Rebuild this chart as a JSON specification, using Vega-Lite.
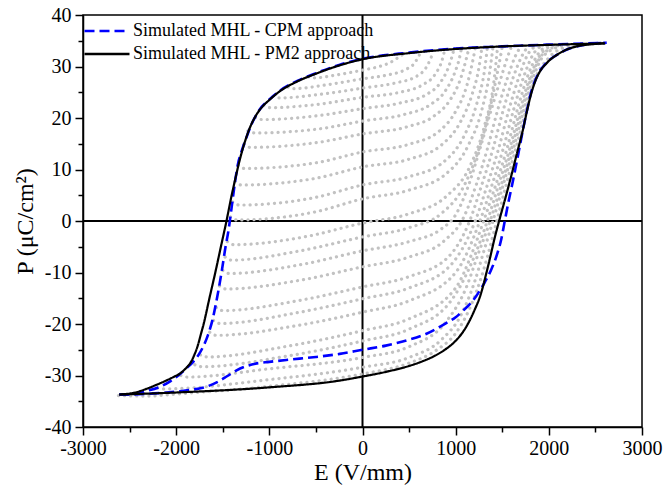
{
  "$schema": "https://vega.github.io/schema/vega-lite/v6.json",
  "width": 559,
  "height": 412,
  "autosize": {"type": "none"},
  "padding": {"left": 83, "top": 15, "right": 23, "bottom": 62},
  "background": "white",
  "config": {
    "font": "Liberation Serif",
    "view": {"stroke": "black", "strokeWidth": 1.5},
    "axis": {
      "domainColor": "black", "domainWidth": 1.5, "tickColor": "black", "tickWidth": 1.5,
      "labelFont": "Liberation Serif", "labelFontSize": 20, "labelColor": "black",
      "titleFont": "Liberation Serif", "titleFontSize": 24, "titleFontWeight": "normal", "titleColor": "black",
      "grid": false, "labelOverlap": false, "labelFlush": false
    },
    "legend": {"labelFont": "Liberation Serif"}
  },
  "datasets": {
    "gray": [
      {"c":"g1","E":-580,"P":28.0},{"c":"g1","E":-510,"P":27.8},{"c":"g1","E":-300,"P":28.3},{"c":"g1","E":0,"P":29.3},{"c":"g1","E":180,"P":30.0},{"c":"g1","E":300,"P":30.8},{"c":"g1","E":380,"P":31.7},{"c":"g1","E":430,"P":32.3},
      {"c":"g2","E":-800,"P":26.0},{"c":"g2","E":-730,"P":25.7},{"c":"g2","E":-400,"P":26.4},{"c":"g2","E":0,"P":27.6},{"c":"g2","E":280,"P":28.4},{"c":"g2","E":450,"P":29.3},{"c":"g2","E":560,"P":30.7},{"c":"g2","E":620,"P":32.6},
      {"c":"g3","E":-960,"P":24.2},{"c":"g3","E":-890,"P":23.9},{"c":"g3","E":-450,"P":24.6},{"c":"g3","E":0,"P":25.8},{"c":"g3","E":350,"P":26.8},{"c":"g3","E":570,"P":28.0},{"c":"g3","E":690,"P":30.0},{"c":"g3","E":760,"P":32.8},
      {"c":"g4","E":-1060,"P":22.4},{"c":"g4","E":-990,"P":22.0},{"c":"g4","E":-500,"P":22.6},{"c":"g4","E":0,"P":24.0},{"c":"g4","E":400,"P":25.0},{"c":"g4","E":640,"P":26.4},{"c":"g4","E":780,"P":28.5},{"c":"g4","E":850,"P":31.0},{"c":"g4","E":880,"P":33.0},
      {"c":"g5","E":-1150,"P":20.1},{"c":"g5","E":-1080,"P":19.7},{"c":"g5","E":-500,"P":20.4},{"c":"g5","E":0,"P":21.8},{"c":"g5","E":400,"P":22.9},{"c":"g5","E":680,"P":24.5},{"c":"g5","E":840,"P":27.0},{"c":"g5","E":930,"P":30.2},{"c":"g5","E":980,"P":33.2},
      {"c":"g6","E":-1230,"P":17.5},{"c":"g6","E":-1160,"P":17.1},{"c":"g6","E":-500,"P":17.8},{"c":"g6","E":0,"P":19.4},{"c":"g6","E":450,"P":20.7},{"c":"g6","E":720,"P":22.5},{"c":"g6","E":890,"P":25.3},{"c":"g6","E":990,"P":28.8},{"c":"g6","E":1040,"P":31.6},{"c":"g6","E":1060,"P":33.3},
      {"c":"g7","E":-1275,"P":14.8},{"c":"g7","E":-1205,"P":14.3},{"c":"g7","E":-500,"P":15.2},{"c":"g7","E":0,"P":16.9},{"c":"g7","E":480,"P":18.3},{"c":"g7","E":770,"P":20.4},{"c":"g7","E":940,"P":23.5},{"c":"g7","E":1050,"P":27.5},{"c":"g7","E":1110,"P":31.2},{"c":"g7","E":1140,"P":33.4},
      {"c":"g8","E":-1335,"P":10.8},{"c":"g8","E":-1265,"P":10.2},{"c":"g8","E":-500,"P":11.3},{"c":"g8","E":0,"P":13.4},{"c":"g8","E":500,"P":14.9},{"c":"g8","E":820,"P":17.4},{"c":"g8","E":1000,"P":21.3},{"c":"g8","E":1120,"P":26.3},{"c":"g8","E":1180,"P":30.8},{"c":"g8","E":1210,"P":33.5},
      {"c":"g9","E":-1370,"P":7.6},{"c":"g9","E":-1300,"P":7.0},{"c":"g9","E":-500,"P":8.3},{"c":"g9","E":0,"P":10.5},{"c":"g9","E":500,"P":12.0},{"c":"g9","E":850,"P":14.8},{"c":"g9","E":1050,"P":19.2},{"c":"g9","E":1180,"P":24.8},{"c":"g9","E":1250,"P":29.8},{"c":"g9","E":1280,"P":33.5},
      {"c":"g10","E":-1395,"P":3.7},{"c":"g10","E":-1325,"P":3.1},{"c":"g10","E":-500,"P":4.6},{"c":"g10","E":0,"P":7.0},{"c":"g10","E":500,"P":8.6},{"c":"g10","E":880,"P":11.6},{"c":"g10","E":1090,"P":16.5},{"c":"g10","E":1230,"P":23.0},{"c":"g10","E":1310,"P":29.3},{"c":"g10","E":1340,"P":33.6},
      {"c":"g11","E":-1418,"P":0.8},{"c":"g11","E":-1348,"P":0.2},{"c":"g11","E":-500,"P":1.8},{"c":"g11","E":0,"P":4.3},{"c":"g11","E":500,"P":6.0},{"c":"g11","E":900,"P":9.2},{"c":"g11","E":1130,"P":14.5},{"c":"g11","E":1280,"P":21.5},{"c":"g11","E":1360,"P":28.3},{"c":"g11","E":1400,"P":33.7},
      {"c":"g12","E":-1450,"P":-4.0},{"c":"g12","E":-1380,"P":-4.6},{"c":"g12","E":-600,"P":-3.0},{"c":"g12","E":0,"P":-0.4},{"c":"g12","E":500,"P":1.4},{"c":"g12","E":900,"P":4.8},{"c":"g12","E":1150,"P":10.5},{"c":"g12","E":1310,"P":18.5},{"c":"g12","E":1410,"P":27.0},{"c":"g12","E":1450,"P":33.8},
      {"c":"g13","E":-1475,"P":-7.0},{"c":"g13","E":-1405,"P":-7.6},{"c":"g13","E":-700,"P":-5.9},{"c":"g13","E":0,"P":-3.1},{"c":"g13","E":500,"P":-1.3},{"c":"g13","E":850,"P":1.5},{"c":"g13","E":1080,"P":6.5},{"c":"g13","E":1250,"P":14.0},{"c":"g13","E":1370,"P":22.0},{"c":"g13","E":1450,"P":29.0},{"c":"g13","E":1500,"P":33.8},
      {"c":"g14","E":-1500,"P":-9.6},{"c":"g14","E":-1430,"P":-10.2},{"c":"g14","E":-700,"P":-8.6},{"c":"g14","E":0,"P":-5.8},{"c":"g14","E":500,"P":-4.0},{"c":"g14","E":850,"P":-1.5},{"c":"g14","E":1000,"P":1.2},{"c":"g14","E":1130,"P":6.5},{"c":"g14","E":1260,"P":14.0},{"c":"g14","E":1380,"P":21.5},{"c":"g14","E":1490,"P":28.0},{"c":"g14","E":1560,"P":32.0},{"c":"g14","E":1600,"P":33.9},
      {"c":"g15","E":-1535,"P":-12.6},{"c":"g15","E":-1465,"P":-13.2},{"c":"g15","E":-700,"P":-11.6},{"c":"g15","E":0,"P":-8.9},{"c":"g15","E":500,"P":-7.0},{"c":"g15","E":880,"P":-3.8},{"c":"g15","E":1080,"P":0.5},{"c":"g15","E":1220,"P":7.0},{"c":"g15","E":1340,"P":14.0},{"c":"g15","E":1450,"P":21.5},{"c":"g15","E":1560,"P":28.0},{"c":"g15","E":1640,"P":32.0},{"c":"g15","E":1700,"P":33.9},
      {"c":"g16","E":-1570,"P":-16.8},{"c":"g16","E":-1500,"P":-17.4},{"c":"g16","E":-700,"P":-15.5},{"c":"g16","E":0,"P":-12.8},{"c":"g16","E":500,"P":-10.8},{"c":"g16","E":920,"P":-7.0},{"c":"g16","E":1150,"P":0.0},{"c":"g16","E":1280,"P":7.0},{"c":"g16","E":1400,"P":14.0},{"c":"g16","E":1510,"P":21.5},{"c":"g16","E":1620,"P":28.0},{"c":"g16","E":1710,"P":32.0},{"c":"g16","E":1780,"P":34.0},
      {"c":"g17","E":-1600,"P":-19.3},{"c":"g17","E":-1530,"P":-19.9},{"c":"g17","E":-700,"P":-17.8},{"c":"g17","E":0,"P":-15.1},{"c":"g17","E":500,"P":-13.0},{"c":"g17","E":950,"P":-8.5},{"c":"g17","E":1210,"P":0.0},{"c":"g17","E":1340,"P":7.0},{"c":"g17","E":1460,"P":14.0},{"c":"g17","E":1570,"P":21.5},{"c":"g17","E":1680,"P":28.0},{"c":"g17","E":1770,"P":32.2},{"c":"g17","E":1860,"P":34.0},
      {"c":"g18","E":-1640,"P":-21.6},{"c":"g18","E":-1570,"P":-22.2},{"c":"g18","E":-700,"P":-20.3},{"c":"g18","E":0,"P":-17.7},{"c":"g18","E":500,"P":-15.5},{"c":"g18","E":1000,"P":-10.0},{"c":"g18","E":1260,"P":0.0},{"c":"g18","E":1390,"P":7.0},{"c":"g18","E":1510,"P":14.0},{"c":"g18","E":1620,"P":21.5},{"c":"g18","E":1730,"P":28.0},{"c":"g18","E":1830,"P":32.3},{"c":"g18","E":1930,"P":34.1},
      {"c":"g19","E":-1740,"P":-26.0},{"c":"g19","E":-1670,"P":-26.4},{"c":"g19","E":-800,"P":-24.3},{"c":"g19","E":0,"P":-21.3},{"c":"g19","E":500,"P":-19.0},{"c":"g19","E":1000,"P":-13.0},{"c":"g19","E":1170,"P":-6.5},{"c":"g19","E":1300,"P":0.0},{"c":"g19","E":1430,"P":7.0},{"c":"g19","E":1550,"P":14.0},{"c":"g19","E":1660,"P":21.5},{"c":"g19","E":1770,"P":28.0},{"c":"g19","E":1880,"P":32.3},{"c":"g19","E":1990,"P":34.1},
      {"c":"g20","E":-1800,"P":-27.9},{"c":"g20","E":-1730,"P":-28.3},{"c":"g20","E":-800,"P":-26.2},{"c":"g20","E":0,"P":-23.3},{"c":"g20","E":500,"P":-21.0},{"c":"g20","E":950,"P":-15.5},{"c":"g20","E":1150,"P":-9.0},{"c":"g20","E":1340,"P":0.0},{"c":"g20","E":1460,"P":7.0},{"c":"g20","E":1580,"P":14.0},{"c":"g20","E":1690,"P":21.5},{"c":"g20","E":1800,"P":28.0},{"c":"g20","E":1910,"P":32.3},{"c":"g20","E":2060,"P":34.2},
      {"c":"g21","E":-1950,"P":-30.0},{"c":"g21","E":-1880,"P":-30.3},{"c":"g21","E":-1000,"P":-28.7},{"c":"g21","E":0,"P":-26.5},{"c":"g21","E":500,"P":-24.4},{"c":"g21","E":900,"P":-19.5},{"c":"g21","E":1100,"P":-13.5},{"c":"g21","E":1250,"P":-6.0},{"c":"g21","E":1370,"P":0.0},{"c":"g21","E":1490,"P":7.0},{"c":"g21","E":1600,"P":14.0},{"c":"g21","E":1710,"P":21.5},{"c":"g21","E":1815,"P":28.0},{"c":"g21","E":1930,"P":32.3},{"c":"g21","E":2150,"P":34.3},
      {"c":"g22","E":-2200,"P":-32.4},{"c":"g22","E":-2130,"P":-32.6},{"c":"g22","E":-1000,"P":-30.8},{"c":"g22","E":0,"P":-28.4},{"c":"g22","E":500,"P":-26.5},{"c":"g22","E":850,"P":-23.0},{"c":"g22","E":1050,"P":-18.5},{"c":"g22","E":1200,"P":-12.0},{"c":"g22","E":1300,"P":-6.0},{"c":"g22","E":1400,"P":0.0},{"c":"g22","E":1510,"P":7.0},{"c":"g22","E":1620,"P":14.0},{"c":"g22","E":1730,"P":21.5},{"c":"g22","E":1835,"P":28.0},{"c":"g22","E":1950,"P":32.2},{"c":"g22","E":2200,"P":34.3},
      {"c":"g23","E":-2620,"P":-33.9},{"c":"g23","E":-2300,"P":-34.0},{"c":"g23","E":-2000,"P":-33.6},{"c":"g23","E":-1000,"P":-32.1},{"c":"g23","E":0,"P":-29.7},{"c":"g23","E":500,"P":-27.6},{"c":"g23","E":800,"P":-25.0},{"c":"g23","E":1000,"P":-21.8},{"c":"g23","E":1150,"P":-17.0},{"c":"g23","E":1300,"P":-9.5},{"c":"g23","E":1420,"P":-1.5},{"c":"g23","E":1520,"P":5.5},{"c":"g23","E":1630,"P":13.0},{"c":"g23","E":1740,"P":20.5},{"c":"g23","E":1850,"P":27.5},{"c":"g23","E":1990,"P":31.5},{"c":"g23","E":2200,"P":33.8},{"c":"g23","E":2600,"P":34.5}
    ],
    "cpm": [
      {"b":"d","E":-2610,"P":-33.7},{"b":"d","E":-2450,"P":-33.55},{"b":"d","E":-2318,"P":-33.0},{"b":"d","E":-2175,"P":-32.2},{"b":"d","E":-2060,"P":-31.1},{"b":"d","E":-1970,"P":-29.9},{"b":"d","E":-1890,"P":-28.6},{"b":"d","E":-1820,"P":-27.4},{"b":"d","E":-1760,"P":-26.0},{"b":"d","E":-1705,"P":-24.2},{"b":"d","E":-1656,"P":-22.0},{"b":"d","E":-1610,"P":-19.2},{"b":"d","E":-1560,"P":-14.8},{"b":"d","E":-1513,"P":-10.0},{"b":"d","E":-1470,"P":-5.0},{"b":"d","E":-1440,"P":-2.0},{"b":"d","E":-1424,"P":0.0},{"b":"d","E":-1395,"P":4.0},{"b":"d","E":-1365,"P":8.0},{"b":"d","E":-1335,"P":11.2},{"b":"d","E":-1300,"P":13.4},{"b":"d","E":-1250,"P":16.0},{"b":"d","E":-1200,"P":18.4},{"b":"d","E":-1140,"P":20.6},{"b":"d","E":-1080,"P":22.2},{"b":"d","E":-1000,"P":23.6},{"b":"d","E":-887,"P":25.3},{"b":"d","E":-700,"P":27.2},{"b":"d","E":-500,"P":28.7},{"b":"d","E":-250,"P":30.3},{"b":"d","E":0,"P":31.5},{"b":"d","E":500,"P":32.7},{"b":"d","E":1000,"P":33.5},{"b":"d","E":1500,"P":33.9},{"b":"d","E":2000,"P":34.25},{"b":"d","E":2620,"P":34.6},
      {"b":"u","E":-2610,"P":-33.7},{"b":"u","E":-2350,"P":-33.6},{"b":"u","E":-2103,"P":-33.3},{"b":"u","E":-1900,"P":-32.9},{"b":"u","E":-1700,"P":-32.3},{"b":"u","E":-1560,"P":-31.3},{"b":"u","E":-1450,"P":-30.1},{"b":"u","E":-1352,"P":-29.0},{"b":"u","E":-1250,"P":-28.2},{"b":"u","E":-1150,"P":-27.7},{"b":"u","E":-1000,"P":-27.35},{"b":"u","E":-800,"P":-26.95},{"b":"u","E":-500,"P":-26.4},{"b":"u","E":-244,"P":-25.8},{"b":"u","E":0,"P":-25.0},{"b":"u","E":250,"P":-24.2},{"b":"u","E":472,"P":-23.2},{"b":"u","E":687,"P":-21.9},{"b":"u","E":901,"P":-19.8},{"b":"u","E":1000,"P":-18.7},{"b":"u","E":1080,"P":-17.4},{"b":"u","E":1160,"P":-16.0},{"b":"u","E":1223,"P":-14.5},{"b":"u","E":1312,"P":-11.9},{"b":"u","E":1380,"P":-9.5},{"b":"u","E":1444,"P":-6.5},{"b":"u","E":1490,"P":-3.5},{"b":"u","E":1527,"P":0.0},{"b":"u","E":1570,"P":4.0},{"b":"u","E":1609,"P":7.3},{"b":"u","E":1650,"P":11.0},{"b":"u","E":1685,"P":14.2},{"b":"u","E":1723,"P":17.8},{"b":"u","E":1760,"P":21.0},{"b":"u","E":1800,"P":24.3},{"b":"u","E":1845,"P":26.9},{"b":"u","E":1900,"P":29.0},{"b":"u","E":1974,"P":30.7},{"b":"u","E":2117,"P":32.6},{"b":"u","E":2296,"P":33.9},{"b":"u","E":2450,"P":34.4},{"b":"u","E":2620,"P":34.6}
    ],
    "pm2": [
      {"b":"d","E":-2610,"P":-33.7},{"b":"d","E":-2440,"P":-33.3},{"b":"d","E":-2320,"P":-32.6},{"b":"d","E":-2210,"P":-31.8},{"b":"d","E":-2110,"P":-31.0},{"b":"d","E":-2030,"P":-30.3},{"b":"d","E":-1950,"P":-29.5},{"b":"d","E":-1890,"P":-28.5},{"b":"d","E":-1845,"P":-27.5},{"b":"d","E":-1805,"P":-26.0},{"b":"d","E":-1765,"P":-24.0},{"b":"d","E":-1735,"P":-22.0},{"b":"d","E":-1705,"P":-20.0},{"b":"d","E":-1643,"P":-15.0},{"b":"d","E":-1580,"P":-10.0},{"b":"d","E":-1520,"P":-5.0},{"b":"d","E":-1460,"P":0.0},{"b":"d","E":-1410,"P":4.5},{"b":"d","E":-1365,"P":8.2},{"b":"d","E":-1310,"P":12.4},{"b":"d","E":-1255,"P":15.8},{"b":"d","E":-1200,"P":18.5},{"b":"d","E":-1140,"P":20.6},{"b":"d","E":-1080,"P":22.1},{"b":"d","E":-1000,"P":23.5},{"b":"d","E":-887,"P":25.2},{"b":"d","E":-700,"P":27.1},{"b":"d","E":-500,"P":28.6},{"b":"d","E":-250,"P":30.2},{"b":"d","E":0,"P":31.4},{"b":"d","E":500,"P":32.6},{"b":"d","E":1000,"P":33.4},{"b":"d","E":1500,"P":33.9},{"b":"d","E":2000,"P":34.2},{"b":"d","E":2600,"P":34.5},
      {"b":"u","E":-2610,"P":-33.7},{"b":"u","E":-2000,"P":-33.3},{"b":"u","E":-1000,"P":-32.3},{"b":"u","E":-250,"P":-31.0},{"b":"u","E":0,"P":-30.2},{"b":"u","E":250,"P":-29.3},{"b":"u","E":508,"P":-28.1},{"b":"u","E":650,"P":-27.2},{"b":"u","E":794,"P":-26.0},{"b":"u","E":900,"P":-24.8},{"b":"u","E":1009,"P":-23.1},{"b":"u","E":1080,"P":-21.5},{"b":"u","E":1151,"P":-19.3},{"b":"u","E":1205,"P":-17.2},{"b":"u","E":1259,"P":-14.8},{"b":"u","E":1350,"P":-8.6},{"b":"u","E":1420,"P":-3.2},{"b":"u","E":1466,"P":0.0},{"b":"u","E":1530,"P":4.2},{"b":"u","E":1593,"P":8.5},{"b":"u","E":1656,"P":13.0},{"b":"u","E":1723,"P":17.8},{"b":"u","E":1760,"P":20.9},{"b":"u","E":1800,"P":24.0},{"b":"u","E":1845,"P":26.7},{"b":"u","E":1900,"P":28.9},{"b":"u","E":1974,"P":30.6},{"b":"u","E":2117,"P":32.6},{"b":"u","E":2296,"P":33.9},{"b":"u","E":2450,"P":34.3},{"b":"u","E":2600,"P":34.5}
    ]
  },
  "encoding": {
    "x": {
      "field": "E", "type": "quantitative",
      "scale": {"domain": [-3000, 3000], "nice": false, "zero": false},
      "axis": {
        "title": "E (V/mm)", "titlePadding": 2,
        "values": [-3000,-2500,-2000,-1500,-1000,-500,0,500,1000,1500,2000,2500,3000],
        "labelExpr": "datum.value % 1000 === 0 ? '' + datum.value : ''",
        "tickSize": {"condition": {"test": "datum.value % 1000 === 0", "value": 8}, "value": 5},
        "labelPadding": 3
      }
    },
    "y": {
      "field": "P", "type": "quantitative",
      "scale": {"domain": [-40, 40], "nice": false, "zero": false},
      "axis": {
        "title": "P (μC/cm²)", "titlePadding": 7,
        "values": [-40,-35,-30,-25,-20,-15,-10,-5,0,5,10,15,20,25,30,35,40],
        "labelExpr": "datum.value % 10 === 0 ? '' + datum.value : ''",
        "tickSize": {"condition": {"test": "datum.value % 10 === 0", "value": 8}, "value": 5},
        "labelPadding": 4
      }
    }
  },
  "layer": [
    {
      "data": {"values": [{"E": 0}]},
      "mark": {"type": "rule", "color": "black", "strokeWidth": 2},
      "encoding": {"x": {"field": "E", "type": "quantitative"}, "y": null}
    },
    {
      "data": {"values": [{"P": 0}]},
      "mark": {"type": "rule", "color": "black", "strokeWidth": 2},
      "encoding": {"y": {"field": "P", "type": "quantitative"}, "x": null}
    },
    {
      "data": {"name": "gray"},
      "mark": {"type": "line", "color": "#c2c2c2", "strokeWidth": 3.2, "strokeCap": "round", "strokeDash": [0.1, 6], "interpolate": "monotone"},
      "encoding": {"detail": {"field": "c", "type": "nominal"}}
    },
    {
      "data": {"name": "cpm"},
      "transform": [{"calculate": "'Simulated MHL - CPM approach'", "as": "s"}],
      "mark": {"type": "line", "strokeWidth": 2.6, "interpolate": "monotone"},
      "encoding": {
        "detail": {"field": "b", "type": "nominal"},
        "color": {"field": "s", "type": "nominal",
          "scale": {"domain": ["Simulated MHL - CPM approach", "Simulated MHL - PM2 approach"], "range": ["#0000ff", "#000000"]},
          "legend": {"orient": "none", "legendX": 15, "legendY": 7, "title": null, "symbolType": "M-3,0L3,0", "symbolSize": 225, "symbolStrokeWidth": 2.5, "labelFont": "Liberation Serif", "labelFontSize": 18, "labelColor": "black", "labelOffset": 17, "padding": 0, "rowPadding": 5, "labelLimit": 400}},
        "strokeDash": {"field": "s", "type": "nominal",
          "scale": {"domain": ["Simulated MHL - CPM approach", "Simulated MHL - PM2 approach"], "range": [[10, 5], [1, 0]]}}
      }
    },
    {
      "data": {"name": "pm2"},
      "transform": [{"calculate": "'Simulated MHL - PM2 approach'", "as": "s"}],
      "mark": {"type": "line", "strokeWidth": 2.2, "interpolate": "monotone"},
      "encoding": {
        "detail": {"field": "b", "type": "nominal"},
        "color": {"field": "s", "type": "nominal"},
        "strokeDash": {"field": "s", "type": "nominal"}
      }
    }
  ]
}
